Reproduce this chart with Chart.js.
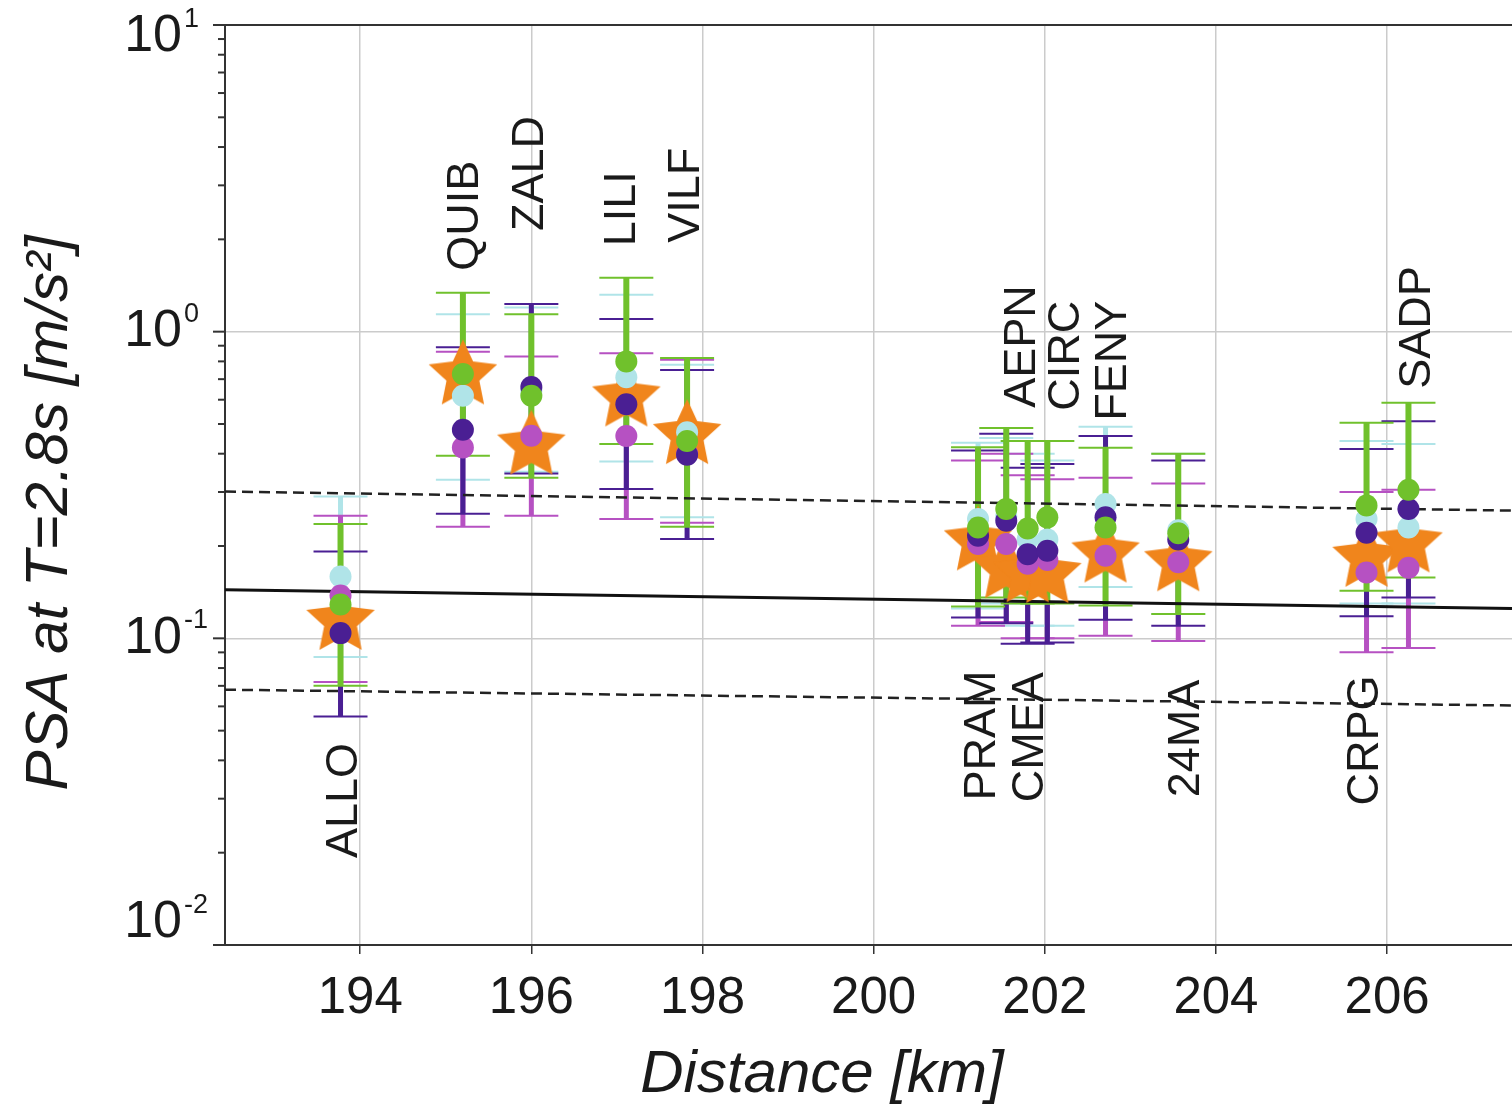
<!DOCTYPE html>
<html lang="en">
<head>
  <meta charset="UTF-8">
  <title>PSA at T=2.8s</title>
  <script src="https://cdn.jsdelivr.net/npm/chart.js"></script>
  <style>
    body { margin: 0; padding: 0; background: #fff; }
    #wrap { width: 1512px; height: 1108px; }
  </style>
</head>
<body>
  <div id="wrap"><canvas id="psaChart" width="1512" height="1108"></canvas></div>
  <script>
    // stations and distance [km]
    const stations = ['ALLO', 'QUIB', 'ZALD', 'LILI', 'VILF', 'PRAM', 'AEPN', 'CMEA', 'CIRC', 'FENY', '24MA', 'CRPG', 'SADP'];
    const distance = [193.77, 195.20, 196.00, 197.11, 197.82, 201.22, 201.55, 201.80, 202.03, 202.71, 203.56, 205.76, 206.25];

    // observed PSA (stars)
    const observed = [0.114, 0.72, 0.425, 0.61, 0.46, 0.207, 0.168, 0.163, 0.162, 0.189, 0.177, 0.183, 0.204];

    // simulated PSA with their ranges
    const cyanVal = [0.159, 0.618, 0.64, 0.71, 0.47, 0.245, 0.25, 0.21, 0.21, 0.274, 0.225, 0.245, 0.23];
    const cyanLo  = [0.087, 0.329, 0.349, 0.377, 0.248, 0.125, 0.13, 0.11, 0.11, 0.147, 0.12, 0.13, 0.13];
    const cyanHi  = [0.29, 1.14, 1.2, 1.32, 0.78, 0.434, 0.45, 0.40, 0.38, 0.49, 0.40, 0.44, 0.43];

    const greenVal = [0.129, 0.728, 0.618, 0.80, 0.44, 0.23, 0.264, 0.228, 0.248, 0.23, 0.22, 0.271, 0.305];
    const greenLo  = [0.070, 0.394, 0.334, 0.43, 0.231, 0.127, 0.136, 0.13, 0.13, 0.128, 0.12, 0.143, 0.158];
    const greenHi  = [0.236, 1.34, 1.14, 1.50, 0.82, 0.42, 0.485, 0.44, 0.44, 0.418, 0.40, 0.505, 0.586];

    const purpleVal = [0.104, 0.479, 0.66, 0.58, 0.397, 0.216, 0.242, 0.188, 0.193, 0.248, 0.21, 0.221, 0.264];
    const purpleLo  = [0.0556, 0.255, 0.345, 0.307, 0.211, 0.117, 0.112, 0.096, 0.097, 0.115, 0.11, 0.118, 0.136];
    const purpleHi  = [0.192, 0.89, 1.23, 1.10, 0.75, 0.41, 0.465, 0.36, 0.37, 0.457, 0.38, 0.414, 0.51];

    const magentaVal = [0.138, 0.419, 0.458, 0.457, 0.40, 0.203, 0.203, 0.175, 0.18, 0.186, 0.177, 0.164, 0.17];
    const magentaLo  = [0.072, 0.231, 0.251, 0.245, 0.238, 0.11, 0.113, 0.10, 0.10, 0.102, 0.098, 0.09, 0.093];
    const magentaHi  = [0.251, 0.86, 0.83, 0.85, 0.81, 0.38, 0.40, 0.34, 0.33, 0.334, 0.32, 0.30, 0.305];

    // prediction: median and +/- one sigma
    const lineX = [192.42, 207.46];
    const median = [0.144, 0.125];
    const upper = [0.301, 0.261];
    const lower = [0.068, 0.0604];

    // where the station names sit (distance, PSA at the start of the text)
    const labelX  = [193.82, 195.23, 195.99, 197.07, 197.81, 201.27, 201.74, 201.83, 202.25, 202.80, 203.66, 205.75, 206.36];
    const labelAt = [0.0192, 1.58, 2.13, 1.90, 1.95, 0.0296, 0.565, 0.0292, 0.552, 0.512, 0.0303, 0.0285, 0.651];

    const xTicks = [194, 196, 198, 200, 202, 204, 206];

    const FONT = '"Liberation Sans", Arial, sans-serif';
    const colors = {
      star: '#f0851c',
      cyan: '#b0e4e8',
      green: '#70c12c',
      purple: '#4a1f93',
      magenta: '#b651c2'
    };

    // drawing order of the bars: cyan, magenta, purple, green on top
    const bars = [
      { color: colors.cyan, lo: cyanLo, hi: cyanHi, w: 5 },
      { color: colors.magenta, lo: magentaLo, hi: magentaHi, w: 5 },
      { color: colors.purple, lo: purpleLo, hi: purpleHi, w: 5 },
      { color: colors.green, lo: greenLo, hi: greenHi, w: 6 }
    ];

    function pts(xs, ys) {
      return xs.map((x, i) => ({ x, y: ys[i] }));
    }

    // filled star used as point style
    function makeStar(r, color) {
      const c = document.createElement('canvas');
      c.width = c.height = r * 2 + 2;
      const g = c.getContext('2d');
      g.translate(r + 1, r + 1);
      g.beginPath();
      for (let i = 0; i < 10; i++) {
        const rad = i % 2 === 0 ? r : r * 0.48;
        const a = -Math.PI / 2 + i * Math.PI / 5;
        g.lineTo(rad * Math.cos(a), rad * Math.sin(a));
      }
      g.closePath();
      g.fillStyle = color;
      g.fill();
      return c;
    }

    function seg(ctx, x1, y1, x2, y2) {
      ctx.beginPath();
      ctx.moveTo(x1, y1);
      ctx.lineTo(x2, y2);
      ctx.stroke();
    }

    const errorBars = {
      id: 'errorBars',
      beforeDatasetsDraw(chart) {
        const { ctx, chartArea, scales: { x, y } } = chart;
        ctx.save();
        ctx.beginPath();
        ctx.rect(chartArea.left, chartArea.top, chartArea.width, chartArea.height);
        ctx.clip();
        bars.forEach(b => {
          ctx.strokeStyle = b.color;
          distance.forEach((d, i) => {
            const px = x.getPixelForValue(d);
            const yLo = y.getPixelForValue(b.lo[i]);
            const yHi = y.getPixelForValue(b.hi[i]);
            ctx.lineWidth = b.w;
            seg(ctx, px, yLo, px, yHi);
            ctx.lineWidth = 2;
            seg(ctx, px - 27, yLo, px + 27, yLo);
            seg(ctx, px - 27, yHi, px + 27, yHi);
          });
        });
        ctx.restore();
      }
    };

    const decorations = {
      id: 'decorations',
      afterDraw(chart) {
        const { ctx, chartArea, scales: { x, y } } = chart;
        ctx.save();
        // top frame line
        ctx.strokeStyle = '#333';
        ctx.lineWidth = 2;
        seg(ctx, chartArea.left, chartArea.top, chartArea.right, chartArea.top);

        // y ticks and labels 10^n
        ctx.fillStyle = '#1a1a1a';
        y.ticks.forEach(t => {
          const py = y.getPixelForValue(t.value);
          const lg = Math.log10(t.value);
          const exp = Math.round(lg);
          const major = Math.abs(lg - exp) < 1e-6;
          seg(ctx, chartArea.left - (major ? 12 : 7), py, chartArea.left, py);
          if (major) {
            const cy = Math.min(Math.max(py, chartArea.top + 12), chartArea.bottom - 22);
            ctx.font = '52px ' + FONT;
            ctx.textAlign = 'right';
            ctx.textBaseline = 'middle';
            ctx.fillText('10', chartArea.left - 43, cy);
            ctx.font = '27px ' + FONT;
            ctx.textAlign = 'left';
            ctx.textBaseline = 'alphabetic';
            ctx.fillText(String(exp), chartArea.left - 41, cy - 10);
          }
        });

        // axis titles
        ctx.font = 'italic 60px ' + FONT;
        ctx.textAlign = 'center';
        ctx.textBaseline = 'middle';
        ctx.fillText('Distance [km]', 822, 1075);
        ctx.save();
        ctx.translate(50, 513);
        ctx.rotate(-Math.PI / 2);
        ctx.fillText('PSA at T=2.8s [m/s²]', 0, 0);
        ctx.restore();

        // station names
        ctx.font = '45px ' + FONT;
        ctx.textAlign = 'left';
        ctx.textBaseline = 'middle';
        stations.forEach((s, i) => {
          ctx.save();
          ctx.translate(x.getPixelForValue(labelX[i]), y.getPixelForValue(labelAt[i]));
          ctx.rotate(-Math.PI / 2);
          ctx.fillText(s, 0, 0);
          ctx.restore();
        });
        ctx.restore();
      }
    };

    const dot = (label, vals, color, order) => ({
      label, data: pts(distance, vals), order,
      backgroundColor: color, borderWidth: 0, pointRadius: 11, pointHoverRadius: 11
    });

    const ctx = document.getElementById('psaChart').getContext('2d');
    new Chart(ctx, {
      type: 'scatter',
      data: {
        datasets: [
          { label: 'median', type: 'line', data: pts(lineX, median), borderColor: '#111', borderWidth: 3, pointRadius: 0, order: 10 },
          { label: '+sigma', type: 'line', data: pts(lineX, upper), borderColor: '#222', borderWidth: 2.5, borderDash: [11, 6], pointRadius: 0, order: 10 },
          { label: '-sigma', type: 'line', data: pts(lineX, lower), borderColor: '#222', borderWidth: 2.5, borderDash: [11, 6], pointRadius: 0, order: 10 },
          { label: 'observed', data: pts(distance, observed), order: 6, pointStyle: makeStar(36, colors.star), pointRadius: 36 },
          dot('cyan', cyanVal, colors.cyan, 5),
          dot('magenta', magentaVal, colors.magenta, 4),
          dot('purple', purpleVal, colors.purple, 3),
          dot('green', greenVal, colors.green, 2)
        ]
      },
      options: {
        responsive: false,
        animation: false,
        layout: { autoPadding: false, padding: { top: 25, left: 0, right: 0, bottom: 0 } },
        plugins: { legend: { display: false }, tooltip: { enabled: false } },
        scales: {
          x: {
            type: 'linear',
            min: lineX[0],
            max: lineX[1],
            afterBuildTicks: s => { s.ticks = xTicks.map(v => ({ value: v })); },
            afterFit: s => { s.height = 163; },
            grid: { color: '#cbcbcb', lineWidth: 1.5, tickColor: '#333', tickLength: 9 },
            border: { color: '#333', width: 2 },
            ticks: { color: '#1a1a1a', padding: 14, maxRotation: 0, font: { size: 51, family: FONT } }
          },
          y: {
            type: 'logarithmic',
            min: 0.01,
            max: 10,
            afterBuildTicks: s => {
              const t = [];
              for (let k = -2; k <= 0; k++) {
                for (let m = 1; m <= 9; m++) t.push({ value: m * Math.pow(10, k) });
              }
              t.push({ value: 10 });
              s.ticks = t;
            },
            afterFit: s => { s.width = 225; },
            grid: {
              drawTicks: false,
              lineWidth: 1.5,
              color: c => {
                const lg = Math.log10(c.tick.value);
                return Math.abs(lg - Math.round(lg)) < 1e-6 ? '#cbcbcb' : 'rgba(0,0,0,0)';
              }
            },
            border: { color: '#333', width: 2 },
            ticks: { display: false }
          }
        }
      },
      plugins: [errorBars, decorations]
    });
  </script>
</body>
</html>
